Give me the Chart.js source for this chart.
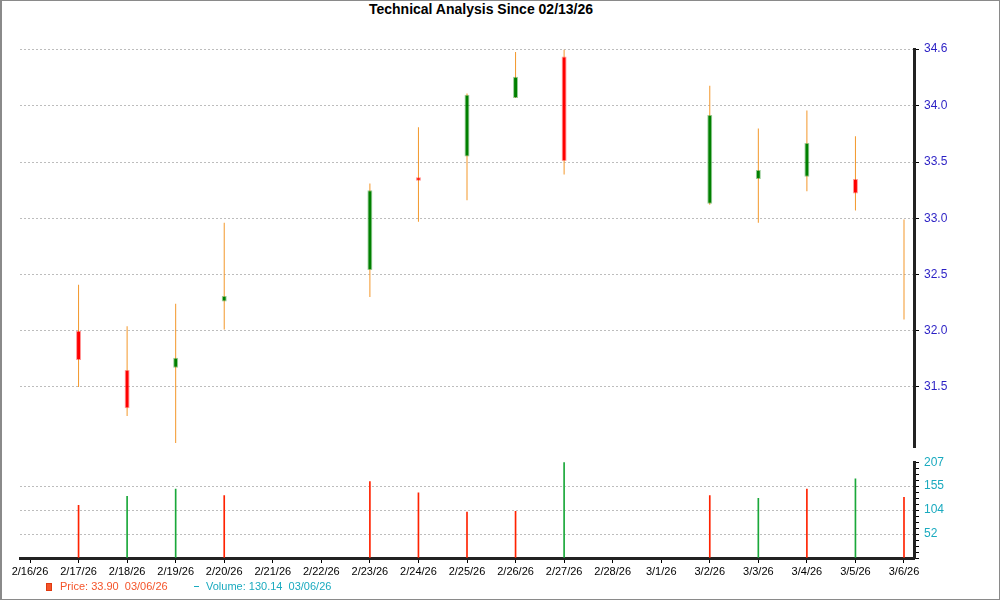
<!DOCTYPE html>
<html>
<head>
<meta charset="utf-8">
<script src="https://cdn.jsdelivr.net/npm/chart.js@4.4.1/dist/chart.umd.min.js"></script>
<style>
    html, body { margin: 0; padding: 0; background: #fff; }
    #frame { position: relative; width: 1000px; height: 600px; overflow: hidden; font-family: 'Liberation Sans', Arial, sans-serif; }
    #frameBorder { position: absolute; left: 0; top: 0; width: 1000px; height: 600px; box-sizing: border-box; border: 1px solid #8a8a8a; border-left-width: 2px; pointer-events: none; }
    #title { position: absolute; left: 0; top: 1px; width: 962px; text-align: center; font-size: 14px; font-weight: bold; color: #000; }
    canvas { position: absolute; left: 0; }
    #priceChart { top: 0; }
    #volumeChart { top: 450px; }
    .leyenda { position: absolute; top: 580px; font-size: 11px; white-space: pre; }
    #leyendaPrecio { left: 60px; color: #f4542a; }
    #leyendaVolumen { left: 206px; color: #1aaabf; }
    #marcaPrecio { position: absolute; left: 46px; top: 583px; width: 4px; height: 6px; background: #f4542a; border: 1px solid #e03a10; }
    #marcaVolumen { position: absolute; left: 194px; top: 586px; width: 5px; height: 1px; background: #1aaabf; }
</style>
</head>
<body>
<div id="frame">
    <div id="title">Technical Analysis Since 02/13/26</div>
    <canvas id="priceChart" width="1000" height="460"></canvas>
    <canvas id="volumeChart" width="1000" height="150"></canvas>
    <div id="marcaPrecio"></div>
    <div id="leyendaPrecio" class="leyenda">Price: 33.90  03/06/26</div>
    <div id="marcaVolumen"></div>
    <div id="leyendaVolumen" class="leyenda">Volume: 130.14  03/06/26</div>
    <div id="frameBorder"></div>
</div>
<script>
// Datos (null = sin sesion)
const dates = ['2/16/26', '2/17/26', '2/18/26', '2/19/26', '2/20/26', '2/21/26', '2/22/26', '2/23/26', '2/24/26', '2/25/26',
    '2/26/26', '2/27/26', '2/28/26', '3/1/26', '3/2/26', '3/3/26', '3/4/26', '3/5/26', '3/6/26'];
const opens  = [null, 32.00, 31.65, 31.67, 32.26, null, null, 32.54, 33.365, 33.55, 34.07, 34.44, null, null, 33.13, 33.35, 33.37, 33.35, null];
const closes = [null, 31.74, 31.31, 31.76, 32.31, null, null, 33.25, 33.335, 34.10, 34.26, 33.51, null, null, 33.92, 33.43, 33.67, 33.22, null];
const highs  = [null, 32.41, 32.04, 32.24, 32.96, null, null, 33.31, 33.81, 34.11, 34.48, 34.50, null, null, 34.18, 33.80, 33.96, 33.73, 32.99];
const lows   = [null, 31.50, 31.24, 31.00, 32.01, null, null, 32.30, 32.97, 33.16, 34.07, 33.39, null, null, 33.12, 32.96, 33.24, 33.07, 32.10];
const volumes = [null, 114, 133, 149, 135, null, null, 165, 141, 99, 101, 207, null, null, 135, 129, 149, 171, 131];
const volumeUp = [null, false, true, true, false, null, null, false, false, false, false, true, null, null, false, true, false, true, false];

const priceTicks = [31.5, 32.0, 32.5, 33.0, 33.5, 34.0, 34.6];
const priceMin = 30.958;
const priceMax = 34.507;
const volumeMax = 207;

const xMin = -0.206;
const xMax = 18.206;

const initCharts = () =>
{
    const wicks = [];
    const bodies = [];
    const bodyColors = [];
    const bodyBorders = [];
    const vols = [];
    const volColors = [];

    dates.forEach((d, i) =>
    {
        if (highs[i] !== null)
        {
            wicks.push({ x: i, y: [lows[i], highs[i]] });
        }

        if (opens[i] !== null)
        {
            bodies.push({ x: i, y: [opens[i], closes[i]] });
            const up = closes[i] >= opens[i];
            bodyColors.push(up ? '#008000' : '#ff0000');
            bodyBorders.push(up ? 'rgba(0,128,0,0.4)' : 'rgba(255,0,0,0.4)');
        }

        if (volumes[i] !== null)
        {
            vols.push({ x: i, y: volumes[i] });
            volColors.push(volumeUp[i] ? '#1aa83a' : '#ff2200');
        }
    });

    Chart.defaults.font.family = "'Liberation Sans', Arial, sans-serif";

    new Chart(document.getElementById('priceChart'),
    {
        type: 'bar',
        data:
        {
            datasets:
            [
                {
                    data: bodies,
                    grouped: false,
                    maxBarThickness: 5,
                    backgroundColor: bodyColors,
                    borderColor: bodyBorders,
                    borderWidth: 1,
                    borderSkipped: false,
                    order: 0
                },
                {
                    data: wicks,
                    grouped: false,
                    maxBarThickness: 1,
                    backgroundColor: '#f3972a',
                    borderWidth: 0,
                    order: 1
                }
            ]
        },
        options:
        {
            responsive: false,
            animation: false,
            devicePixelRatio: 1,
            layout: { padding: { left: 20, top: 49, bottom: 10, right: 0 } },
            plugins: { legend: { display: false }, tooltip: { enabled: false } },
            scales:
            {
                x: { type: 'linear', min: xMin, max: xMax, offset: false, display: false },
                y:
                {
                    position: 'right',
                    min: priceMin,
                    max: priceMax,
                    afterBuildTicks: (scale) =>
                    {
                        scale.ticks = priceTicks.map((v) => ({ value: Math.min(v, priceMax) }));
                    },
                    afterFit: (scale) => { scale.width = 86; },
                    border: { display: true, color: '#222', width: 3, dash: [2, 2] },
                    grid: { color: '#bdbdbd', lineWidth: 1, drawTicks: true, tickLength: 5, tickColor: '#000', tickWidth: 1 },
                    ticks:
                    {
                        autoSkip: false,
                        padding: 5,
                        color: '#2a1fc4',
                        font: { size: 12 },
                        callback: (value, index) => priceTicks[index].toFixed(1)
                    }
                }
            }
        }
    });

    new Chart(document.getElementById('volumeChart'),
    {
        type: 'bar',
        data:
        {
            datasets:
            [
                {
                    data: vols,
                    barThickness: 1,
                    backgroundColor: volColors,
                    borderWidth: 0
                }
            ]
        },
        options:
        {
            responsive: false,
            animation: false,
            devicePixelRatio: 1,
            layout: { padding: { left: 20, top: 10, bottom: 0, right: 0 } },
            plugins: { legend: { display: false }, tooltip: { enabled: false } },
            scales:
            {
                x:
                {
                    type: 'linear',
                    min: xMin,
                    max: xMax,
                    offset: false,
                    afterBuildTicks: (scale) =>
                    {
                        scale.ticks = dates.map((d, i) => ({ value: i }));
                    },
                    afterFit: (scale) => { scale.height = 42; },
                    border: { display: true, color: '#222', width: 3 },
                    grid: { drawOnChartArea: false, drawTicks: true, tickLength: 5, tickColor: '#000', offset: false },
                    ticks:
                    {
                        autoSkip: false,
                        maxRotation: 0,
                        padding: 2,
                        color: '#000',
                        font: { size: 11 },
                        callback: (value, index) => dates[index]
                    }
                },
                y:
                {
                    position: 'right',
                    min: 0,
                    max: volumeMax,
                    afterBuildTicks: (scale) =>
                    {
                        const t = [];
                        for (let i = 0; i <= 16; i++)
                        {
                            t.push({ value: volumeMax * i / 16 });
                        }
                        scale.ticks = t;
                    },
                    afterFit: (scale) => { scale.width = 86; },
                    border: { display: true, color: '#222', width: 3, dash: [2, 2] },
                    grid:
                    {
                        color: (ctx) => (ctx.index % 4 === 0 && ctx.index > 0 && ctx.index < 16) ? '#bdbdbd' : 'rgba(0,0,0,0)',
                        drawTicks: true,
                        tickLength: 5,
                        tickColor: '#000'
                    },
                    ticks:
                    {
                        autoSkip: false,
                        padding: 5,
                        color: '#1aaabf',
                        font: { size: 12 },
                        callback: (value, index) => (index % 4 === 0 && index > 0) ? String(Math.round(value)) : ''
                    }
                }
            }
        }
    });
}

initCharts();
</script>
</body>
</html>
